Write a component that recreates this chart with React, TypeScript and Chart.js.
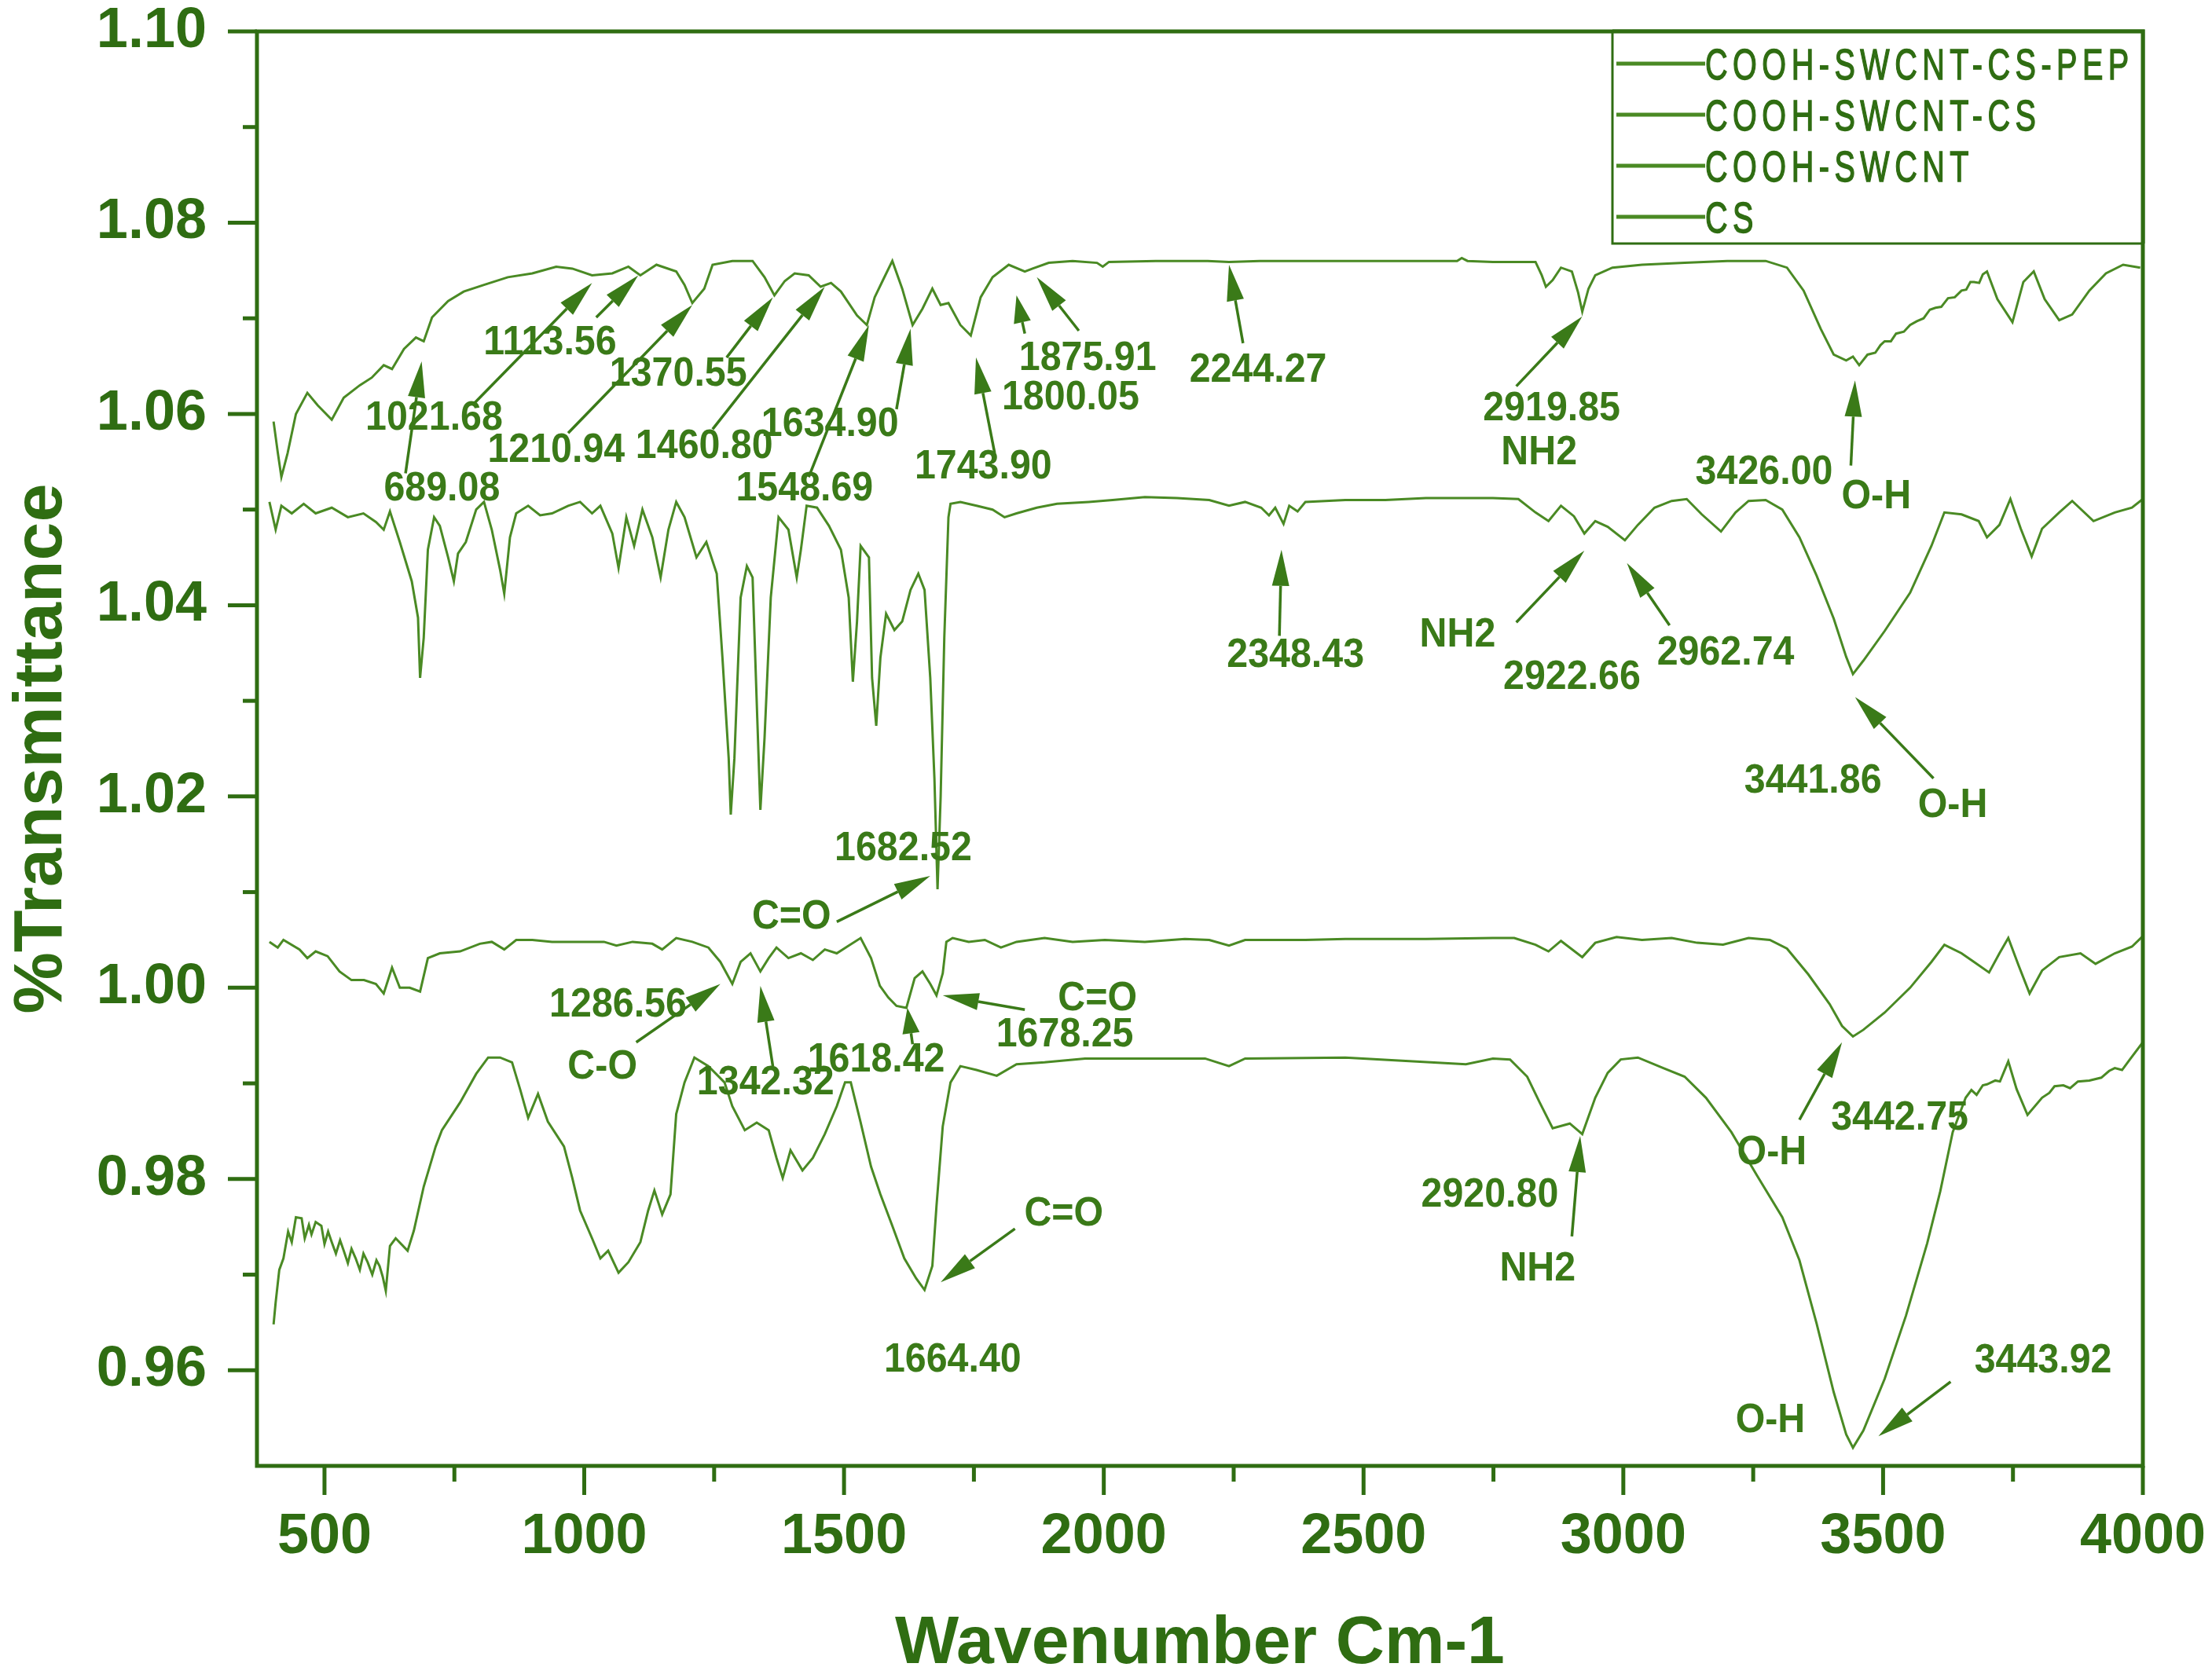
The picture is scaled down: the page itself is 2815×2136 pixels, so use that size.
import React, { useEffect, useRef } from 'react';
import { Chart, registerables } from 'chart.js';

Chart.register(...registerables);

const W = 2815;
const H = 2136;

const seriesNames = ['COOH-SWCNT-CS-PEP', 'COOH-SWCNT-CS', 'COOH-SWCNT', 'CS'];

const xTickValues = [500, 1000, 1500, 2000, 2500, 3000, 3500, 4000];
const xMinorTicks = [750, 1250, 1750, 2250, 2750, 3250, 3750];
const yTickValues = [0.96, 0.98, 1.0, 1.02, 1.04, 1.06, 1.08, 1.1];
const yMinorTicks = [0.97, 0.99, 1.01, 1.03, 1.05, 1.07, 1.09];

const pepSpectrum: [number, number][] = [
  [402, 1.0592], [410, 1.056], [417, 1.0534], [429, 1.0559], [445, 1.06], [467, 1.0622], [487, 1.0609],
  [514, 1.0594], [537, 1.0617], [568, 1.063], [591, 1.0638], [614, 1.0651], [630, 1.0647], [653, 1.0668],
  [676, 1.068], [691, 1.0676], [707, 1.0701], [738, 1.0718], [768, 1.0728], [807, 1.0735], [853, 1.0743],
  [900, 1.0747], [946, 1.0754], [977, 1.0752], [1015, 1.0745], [1054, 1.0747], [1085, 1.0754], [1108, 1.0745],
  [1139, 1.0756], [1177, 1.0749], [1193, 1.0735], [1208, 1.0716], [1231, 1.0731], [1247, 1.0756], [1285, 1.076],
  [1324, 1.076], [1347, 1.0743], [1366, 1.0724], [1386, 1.0739], [1405, 1.0747], [1432, 1.0745], [1455, 1.0733],
  [1475, 1.0737], [1494, 1.0728], [1525, 1.0703], [1544, 1.0693], [1559, 1.0722], [1575, 1.074], [1593, 1.076],
  [1612, 1.0731], [1632, 1.0693], [1651, 1.071], [1670, 1.0731], [1686, 1.0714], [1701, 1.0716], [1724, 1.0693],
  [1744, 1.0682], [1763, 1.0722], [1786, 1.0743], [1817, 1.0756], [1848, 1.0749], [1863, 1.0752], [1894, 1.0758],
  [1940, 1.076], [1987, 1.0758], [1998, 1.0754], [2010, 1.0759], [2100, 1.076], [2200, 1.076], [2241, 1.0759],
  [2300, 1.076], [2400, 1.076], [2500, 1.076], [2600, 1.076], [2680, 1.076], [2689, 1.0763], [2700, 1.076],
  [2749, 1.0759], [2831, 1.0759], [2843, 1.0745], [2851, 1.0733], [2864, 1.074], [2880, 1.0753], [2901, 1.0749],
  [2913, 1.0727], [2921, 1.0707], [2933, 1.0731], [2946, 1.0745], [2979, 1.0753], [3036, 1.0756], [3118, 1.0758],
  [3200, 1.076], [3274, 1.076], [3315, 1.0753], [3347, 1.0729], [3380, 1.0689], [3405, 1.0662], [3429, 1.0656],
  [3442, 1.066], [3454, 1.0651], [3470, 1.0662], [3485, 1.0664], [3495, 1.0672], [3503, 1.0676], [3515, 1.0676],
  [3525, 1.0684], [3540, 1.0686], [3552, 1.0693], [3565, 1.0697], [3578, 1.07], [3590, 1.0709], [3601, 1.0711],
  [3612, 1.0712], [3625, 1.0721], [3638, 1.0722], [3651, 1.0729], [3660, 1.073], [3668, 1.0738], [3675, 1.0738],
  [3685, 1.0737], [3692, 1.0746], [3700, 1.0749], [3720, 1.072], [3749, 1.0696], [3770, 1.0738], [3790, 1.0749],
  [3811, 1.072], [3839, 1.0698], [3864, 1.0704], [3897, 1.0729], [3929, 1.0747], [3962, 1.0756], [3995, 1.0753],
];

const csCompositeSpectrum: [number, number][] = [
  [394, 1.0508], [406, 1.0479], [417, 1.0504], [437, 1.0496], [460, 1.0506], [483, 1.0496], [514, 1.0502],
  [545, 1.0492], [575, 1.0496], [599, 1.0487], [614, 1.0479], [626, 1.0498], [645, 1.0466], [668, 1.0425],
  [680, 1.0387], [684, 1.0324], [691, 1.0366], [699, 1.0458], [711, 1.0492], [722, 1.0483], [738, 1.045],
  [749, 1.0425], [757, 1.0454], [772, 1.0466], [792, 1.05], [807, 1.0508], [822, 1.0479], [838, 1.0437],
  [846, 1.0412], [857, 1.0471], [869, 1.0496], [892, 1.0504], [915, 1.0494], [938, 1.0496], [969, 1.0504],
  [992, 1.0508], [1015, 1.0496], [1031, 1.0504], [1054, 1.0475], [1066, 1.0439], [1081, 1.0492], [1096, 1.0462],
  [1112, 1.05], [1131, 1.0471], [1147, 1.0429], [1162, 1.0479], [1177, 1.0508], [1193, 1.0492], [1216, 1.045],
  [1235, 1.0466], [1255, 1.0433], [1266, 1.0345], [1278, 1.024], [1282, 1.0181], [1289, 1.024], [1301, 1.0408],
  [1313, 1.0441], [1324, 1.0429], [1333, 1.0282], [1339, 1.0186], [1347, 1.0261], [1359, 1.0408], [1374, 1.0492],
  [1393, 1.0479], [1409, 1.0429], [1417, 1.0458], [1428, 1.0504], [1448, 1.0502], [1471, 1.0483], [1494, 1.0458],
  [1509, 1.0408], [1517, 1.032], [1525, 1.0383], [1532, 1.0462], [1548, 1.045], [1554, 1.0324], [1562, 1.0274],
  [1570, 1.0345], [1581, 1.0391], [1597, 1.0374], [1612, 1.0383], [1628, 1.0416], [1643, 1.0433], [1655, 1.0416],
  [1666, 1.0324], [1674, 1.0219], [1680, 1.0103], [1686, 1.02], [1693, 1.0366], [1701, 1.0492], [1705, 1.0506],
  [1724, 1.0508], [1755, 1.0504], [1786, 1.05], [1809, 1.0492], [1832, 1.0496], [1871, 1.0502], [1910, 1.0506],
  [1971, 1.0508], [2017, 1.051], [2079, 1.0513], [2141, 1.0512], [2203, 1.051], [2241, 1.0504], [2272, 1.0508],
  [2303, 1.0502], [2318, 1.0494], [2330, 1.0502], [2346, 1.0485], [2357, 1.0504], [2373, 1.0498], [2388, 1.0508],
  [2465, 1.051], [2542, 1.051], [2620, 1.0512], [2749, 1.0512], [2798, 1.0511], [2831, 1.0497], [2856, 1.0488],
  [2880, 1.0504], [2905, 1.0493], [2925, 1.0475], [2946, 1.0488], [2970, 1.0482], [3003, 1.0468], [3028, 1.0484],
  [3060, 1.0502], [3093, 1.0509], [3122, 1.0511], [3151, 1.0495], [3188, 1.0477], [3216, 1.0497], [3241, 1.0509],
  [3274, 1.051], [3306, 1.05], [3339, 1.0471], [3372, 1.0431], [3405, 1.0386], [3429, 1.0346], [3442, 1.0328],
  [3462, 1.0342], [3503, 1.0373], [3552, 1.0413], [3593, 1.0462], [3618, 1.0497], [3651, 1.0495], [3684, 1.0488],
  [3700, 1.0471], [3724, 1.0484], [3745, 1.0511], [3765, 1.048], [3786, 1.0451], [3806, 1.048], [3839, 1.0497],
  [3864, 1.0509], [3905, 1.0488], [3946, 1.0497], [3979, 1.0502], [4000, 1.0511],
];

const swcntSpectrum: [number, number][] = [
  [394, 1.0048], [410, 1.0042], [421, 1.005], [452, 1.004], [467, 1.0031], [483, 1.0038], [506, 1.0033],
  [529, 1.0017], [552, 1.0008], [576, 1.0008], [599, 1.0004], [614, 0.9994], [630, 1.0021], [645, 1.0],
  [664, 1.0], [684, 0.9996], [699, 1.0031], [722, 1.0036], [761, 1.0038], [799, 1.0046], [822, 1.0048],
  [846, 1.004], [869, 1.005], [900, 1.005], [938, 1.0048], [977, 1.0048], [1038, 1.0048], [1062, 1.0044],
  [1093, 1.0048], [1131, 1.0046], [1150, 1.004], [1177, 1.0052], [1208, 1.0048], [1239, 1.0042], [1262, 1.0027],
  [1285, 1.0004], [1301, 1.0027], [1320, 1.0036], [1339, 1.0017], [1355, 1.0031], [1370, 1.0042], [1393, 1.0031],
  [1417, 1.0036], [1440, 1.0029], [1463, 1.004], [1486, 1.0036], [1509, 1.0044], [1532, 1.0052], [1552, 1.0031],
  [1569, 1.0002], [1585, 0.999], [1601, 0.9981], [1620, 0.9979], [1636, 1.001], [1651, 1.0017], [1666, 1.0004],
  [1678, 0.9992], [1690, 1.0015], [1697, 1.0048], [1709, 1.0052], [1740, 1.0048], [1771, 1.005], [1802, 1.0042],
  [1832, 1.0048], [1886, 1.0052], [1940, 1.0048], [2002, 1.005], [2079, 1.0048], [2156, 1.0051], [2203, 1.005],
  [2241, 1.0044], [2272, 1.005], [2388, 1.005], [2465, 1.0051], [2620, 1.0051], [2749, 1.0052], [2790, 1.0052],
  [2831, 1.0045], [2856, 1.0038], [2880, 1.0049], [2921, 1.0032], [2946, 1.0047], [2987, 1.0053], [3036, 1.005],
  [3093, 1.0052], [3142, 1.0047], [3192, 1.0045], [3241, 1.0052], [3282, 1.005], [3315, 1.0041], [3356, 1.0014],
  [3397, 0.9983], [3421, 0.996], [3442, 0.9949], [3462, 0.9956], [3503, 0.9974], [3552, 1.0], [3593, 1.0027],
  [3618, 1.0045], [3651, 1.0036], [3675, 1.0027], [3704, 1.0016], [3724, 1.0036], [3741, 1.0052], [3761, 1.0023],
  [3782, 0.9994], [3806, 1.0018], [3839, 1.0032], [3880, 1.0036], [3909, 1.0025], [3946, 1.0036], [3979, 1.0043],
  [4000, 1.0054],
];

const csSpectrum: [number, number][] = [
  [402, 0.9648], [406, 0.9671], [413, 0.9705], [421, 0.9717], [430, 0.9745], [437, 0.9734], [445, 0.976],
  [456, 0.9759], [462, 0.9738], [470, 0.9752], [475, 0.9742], [483, 0.9755], [494, 0.9751], [500, 0.9732],
  [507, 0.9745], [514, 0.9734], [522, 0.9722], [530, 0.9736], [537, 0.9725], [545, 0.9712], [552, 0.9727],
  [560, 0.9717], [568, 0.9705], [575, 0.9722], [583, 0.9713], [592, 0.97], [600, 0.9715], [606, 0.9709],
  [612, 0.9698], [618, 0.9683], [626, 0.973], [637, 0.9738], [660, 0.9725], [672, 0.9746], [691, 0.9792],
  [714, 0.9834], [726, 0.9851], [761, 0.988], [792, 0.991], [815, 0.9927], [838, 0.9927], [861, 0.9922],
  [877, 0.9893], [892, 0.9864], [911, 0.9889], [930, 0.986], [961, 0.9834], [977, 0.9801], [992, 0.9767],
  [1015, 0.9738], [1031, 0.9717], [1046, 0.9725], [1066, 0.9702], [1085, 0.9713], [1108, 0.9734], [1123, 0.9767],
  [1135, 0.9788], [1150, 0.9763], [1166, 0.9784], [1177, 0.9868], [1193, 0.9901], [1212, 0.9927], [1239, 0.9918],
  [1270, 0.9901], [1285, 0.9876], [1309, 0.9851], [1332, 0.9859], [1355, 0.9851], [1370, 0.9822], [1382, 0.9801],
  [1397, 0.983], [1420, 0.9809], [1440, 0.9822], [1463, 0.9847], [1486, 0.9876], [1502, 0.9901], [1513, 0.9901],
  [1532, 0.9859], [1552, 0.9813], [1570, 0.9784], [1593, 0.9751], [1616, 0.9717], [1639, 0.9696], [1655, 0.9684],
  [1670, 0.9709], [1678, 0.9772], [1690, 0.9855], [1705, 0.9901], [1724, 0.9918], [1755, 0.9914], [1794, 0.9908],
  [1832, 0.992], [1886, 0.9922], [1964, 0.9926], [2041, 0.9926], [2118, 0.9926], [2195, 0.9926], [2241, 0.9918],
  [2272, 0.9926], [2465, 0.9927], [2697, 0.992], [2749, 0.9926], [2782, 0.9925], [2815, 0.9907], [2839, 0.988],
  [2864, 0.9853], [2897, 0.9858], [2921, 0.9847], [2946, 0.9885], [2970, 0.9911], [2995, 0.9925], [3028, 0.9927],
  [3077, 0.9916], [3118, 0.9907], [3159, 0.9885], [3208, 0.9849], [3257, 0.9804], [3306, 0.976], [3339, 0.9715],
  [3372, 0.9649], [3405, 0.9577], [3429, 0.9533], [3442, 0.9519], [3462, 0.9537], [3503, 0.9591], [3544, 0.9657],
  [3585, 0.9733], [3610, 0.9787], [3634, 0.9849], [3659, 0.9885], [3670, 0.9893], [3680, 0.9888], [3692, 0.9898],
  [3700, 0.9899], [3716, 0.9903], [3725, 0.9902], [3741, 0.9923], [3757, 0.9894], [3778, 0.9867], [3806, 0.9885],
  [3820, 0.989], [3830, 0.9897], [3847, 0.9898], [3860, 0.9895], [3875, 0.9902], [3897, 0.9903], [3920, 0.9906],
  [3935, 0.9913], [3946, 0.9916], [3960, 0.9914], [3975, 0.9925], [4000, 0.9943],
];

const spectra = [pepSpectrum, csCompositeSpectrum, swcntSpectrum, csSpectrum];

// peak labels: text with its centre in data coordinates
const peakLabels: [string, number, number][] = [
  ['689.08', 726, 1.0525], ['1021.68', 711, 1.0599], ['1113.56', 934, 1.0678], ['1210.94', 946, 1.0565],
  ['1370.55', 1181, 1.0645], ['1460.80', 1231, 1.0569], ['1548.69', 1424, 1.0525], ['1634.90', 1473, 1.0592],
  ['1743.90', 1768, 1.0548], ['1800.05', 1936, 1.062], ['1875.91', 1969, 1.0661], ['2244.27', 2297, 1.0649],
  ['2919.85', 2862, 1.0609], ['NH2', 2838, 1.0563], ['3426.00', 3271, 1.0542], ['O-H', 3487, 1.0517],
  ['2348.43', 2369, 1.0351], ['NH2', 2681, 1.0372], ['2922.66', 2901, 1.0328], ['2962.74', 3197, 1.0353],
  ['3441.86', 3365, 1.0219], ['O-H', 3634, 1.0194], ['1682.52', 1614, 1.0149], ['C=O', 1399, 1.0077],
  ['1286.56', 1065, 0.9985], ['C-O', 1035, 0.992], ['1342.32', 1349, 0.9904], ['1618.42', 1562, 0.9928],
  ['C=O', 1988, 0.9992], ['1678.25', 1925, 0.9954], ['3442.75', 3532, 0.9867], ['O-H', 3286, 0.9831],
  ['C=O', 1923, 0.9767], ['1664.40', 1709, 0.9614], ['2920.80', 2743, 0.9786], ['NH2', 2835, 0.9709],
  ['3443.92', 3808, 0.9613], ['O-H', 3283, 0.9551],
];

// arrows: tail (x, y) -> head (x, y) in data coordinates
const peakArrows: [number, number, number, number][] = [
  [656, 1.0538, 687, 1.0655], [788, 1.0611, 1015, 1.0737], [1023, 1.0701, 1104, 1.0745],
  [969, 1.058, 1208, 1.0714], [1274, 1.0659, 1363, 1.0722], [1247, 1.0584, 1463, 1.0733],
  [1432, 1.0534, 1548, 1.0693], [1601, 1.0605, 1628, 1.0689], [1790, 1.0559, 1754, 1.0659],
  [1848, 1.0684, 1832, 1.0724], [1952, 1.0687, 1871, 1.0743], [2268, 1.0674, 2241, 1.0756],
  [2794, 1.0629, 2921, 1.0702], [3438, 1.0546, 3446, 1.0635], [2338, 1.0368, 2342, 1.0458],
  [2794, 1.0382, 2925, 1.0457], [3089, 1.0379, 3007, 1.0444], [3597, 1.0219, 3446, 1.0304],
  [1486, 1.0069, 1666, 1.0117], [1100, 0.9943, 1262, 1.0004], [1363, 0.9918, 1339, 1.0002],
  [1632, 0.9941, 1622, 0.9979], [1848, 0.9977, 1690, 0.9992], [3339, 0.9862, 3421, 0.9943],
  [1829, 0.9748, 1686, 0.9692], [2901, 0.974, 2917, 0.9845], [3630, 0.9588, 3491, 0.9531],
];

const AXIS = '#2f6d12';
const LINE = '#4a8a24';
const NOTE = '#3a7a18';
const FAMILY = '"Liberation Sans", Arial, sans-serif';

function drawArrow(ctx: CanvasRenderingContext2D, x1: number, y1: number, x2: number, y2: number) {
  const dx = x2 - x1;
  const dy = y2 - y1;
  const total = Math.hypot(dx, dy);
  const ang = Math.atan2(dy, dx);
  const len = Math.min(46, total * 0.7);
  const hw = 11;
  const bx = x2 - Math.cos(ang) * len;
  const by = y2 - Math.sin(ang) * len;
  ctx.beginPath();
  ctx.moveTo(x1, y1);
  ctx.lineTo(bx, by);
  ctx.stroke();
  ctx.beginPath();
  ctx.moveTo(x2, y2);
  ctx.lineTo(bx + Math.sin(ang) * hw, by - Math.cos(ang) * hw);
  ctx.lineTo(bx - Math.sin(ang) * hw, by + Math.cos(ang) * hw);
  ctx.closePath();
  ctx.fill();
}

const decorPlugin = {
  id: 'decor',
  afterDatasetsDraw(chart: any) {
    const { ctx, chartArea: a, scales } = chart;
    const xs = scales.x;
    const ys = scales.y;
    ctx.save();

    // frame
    ctx.strokeStyle = AXIS;
    ctx.lineWidth = 5;
    ctx.lineCap = 'square';
    ctx.strokeRect(a.left, a.top, a.right - a.left, a.bottom - a.top);

    // tick marks (outward)
    ctx.lineCap = 'butt';
    ctx.lineWidth = 5;
    const tickX = (v: number, len: number) => {
      const p = xs.getPixelForValue(v);
      ctx.beginPath();
      ctx.moveTo(p, a.bottom);
      ctx.lineTo(p, a.bottom + len);
      ctx.stroke();
    };
    const tickY = (v: number, len: number) => {
      const p = ys.getPixelForValue(v);
      ctx.beginPath();
      ctx.moveTo(a.left, p);
      ctx.lineTo(a.left - len, p);
      ctx.stroke();
    };
    xTickValues.forEach((v) => tickX(v, 37));
    xMinorTicks.forEach((v) => tickX(v, 20));
    yTickValues.forEach((v) => tickY(v, 37));
    yMinorTicks.forEach((v) => tickY(v, 18));

    // annotations
    ctx.strokeStyle = NOTE;
    ctx.fillStyle = NOTE;
    ctx.lineWidth = 3.5;
    peakArrows.forEach(([x1, y1, x2, y2]) => {
      drawArrow(ctx, xs.getPixelForValue(x1), ys.getPixelForValue(y1), xs.getPixelForValue(x2), ys.getPixelForValue(y2));
    });
    const fs = 52;
    ctx.font = `bold ${fs}px ${FAMILY}`;
    ctx.textAlign = 'center';
    ctx.textBaseline = 'alphabetic';
    peakLabels.forEach(([t, x, y]) => {
      ctx.save();
      ctx.translate(xs.getPixelForValue(x), ys.getPixelForValue(y) + fs * 0.716 / 2);
      ctx.scale(0.93, 1);
      ctx.fillText(t, 0, 0);
      ctx.restore();
    });

    // legend
    const lw = 675;
    const lh = 270;
    const lx = a.right - lw;
    const ly = a.top;
    ctx.fillStyle = '#ffffff';
    ctx.fillRect(lx, ly, lw, lh);
    ctx.strokeStyle = AXIS;
    ctx.lineWidth = 3;
    ctx.strokeRect(lx, ly, lw, lh);
    ctx.lineWidth = 5;
    ctx.beginPath();
    ctx.moveTo(lx, ly);
    ctx.lineTo(a.right, ly);
    ctx.lineTo(a.right, ly + lh);
    ctx.stroke();
    const lfs = 55;
    ctx.font = `${lfs}px ${FAMILY}`;
    ctx.textAlign = 'left';
    ctx.fillStyle = AXIS;
    seriesNames.forEach((name, i) => {
      const cy = ly + 41 + i * 65;
      ctx.strokeStyle = LINE;
      ctx.lineWidth = 5;
      ctx.beginPath();
      ctx.moveTo(lx + 5, cy);
      ctx.lineTo(lx + 118, cy);
      ctx.stroke();
      ctx.save();
      ctx.translate(lx + 118, cy + lfs * 0.716 / 2);
      ctx.scale(0.72, 1);
      (ctx as any).letterSpacing = '9px';
      ctx.strokeStyle = AXIS;
      ctx.lineWidth = 1.5;
      ctx.fillText(name, 0, 0);
      ctx.strokeText(name, 0, 0);
      ctx.restore();
    });

    ctx.restore();
  },
};

export default function App() {
  const ref = useRef<HTMLCanvasElement>(null);

  useEffect(() => {
    const canvas = ref.current;
    if (!canvas) return;
    const chart = new Chart(canvas, {
      type: 'scatter',
      data: {
        datasets: spectra.map((s, i) => ({
          label: seriesNames[i],
          data: s.map(([x, y]) => ({ x, y })),
          showLine: true,
          borderColor: LINE,
          backgroundColor: LINE,
          borderWidth: 3,
          pointRadius: 0,
          pointHoverRadius: 0,
          fill: false,
          tension: 0,
        })),
      },
      options: {
        responsive: false,
        animation: false,
        devicePixelRatio: 1,
        events: [],
        layout: { padding: { top: 40, right: 88, left: 0, bottom: 0 } },
        plugins: { legend: { display: false }, tooltip: { enabled: false } },
        scales: {
          x: {
            type: 'linear',
            position: 'bottom',
            min: 370,
            max: 4000,
            grid: { display: false, drawTicks: false },
            border: { display: false },
            ticks: {
              color: AXIS,
              font: { family: FAMILY, size: 72, weight: 'bold', lineHeight: 1 },
              padding: 55,
              maxRotation: 0,
              autoSkip: false,
              callback: (v: any) => String(v),
            },
            afterBuildTicks: (s: any) => {
              s.ticks = xTickValues.map((value) => ({ value }));
            },
            afterFit: (s: any) => {
              s.height = 270;
              s.paddingLeft = 0;
              s.paddingRight = 0;
              s.paddingTop = 0;
              s.paddingBottom = 0;
            },
            title: {
              display: true,
              text: 'Wavenumber Cm-1',
              color: AXIS,
              font: { family: FAMILY, size: 86, weight: 'bold', lineHeight: 1 },
              padding: 0,
            },
          },
          y: {
            type: 'linear',
            position: 'left',
            min: 0.95,
            max: 1.1,
            grid: { display: false, drawTicks: false },
            border: { display: false },
            ticks: {
              color: AXIS,
              font: { family: FAMILY, size: 72, weight: 'bold', lineHeight: 1 },
              padding: 64,
              autoSkip: false,
              callback: (v: any) => Number(v).toFixed(2),
            },
            afterBuildTicks: (s: any) => {
              s.ticks = yTickValues.map((value) => ({ value }));
            },
            afterFit: (s: any) => {
              s.width = 327;
              s.paddingLeft = 0;
              s.paddingRight = 0;
              s.paddingTop = 0;
              s.paddingBottom = 0;
            },
            title: {
              display: true,
              text: '%Transmittance',
              color: AXIS,
              font: { family: FAMILY, size: 88, weight: 'bold', lineHeight: 1 },
              padding: { top: 10, bottom: 0 },
            },
          },
        },
      } as any,
      plugins: [decorPlugin],
    });
    return () => chart.destroy();
  }, []);

  return (
    <div style={{ position: 'fixed', left: 0, top: 0, width: W, height: H, background: '#ffffff' }}>
      <canvas ref={ref} width={W} height={H} style={{ display: 'block', width: W, height: H }} />
    </div>
  );
}
